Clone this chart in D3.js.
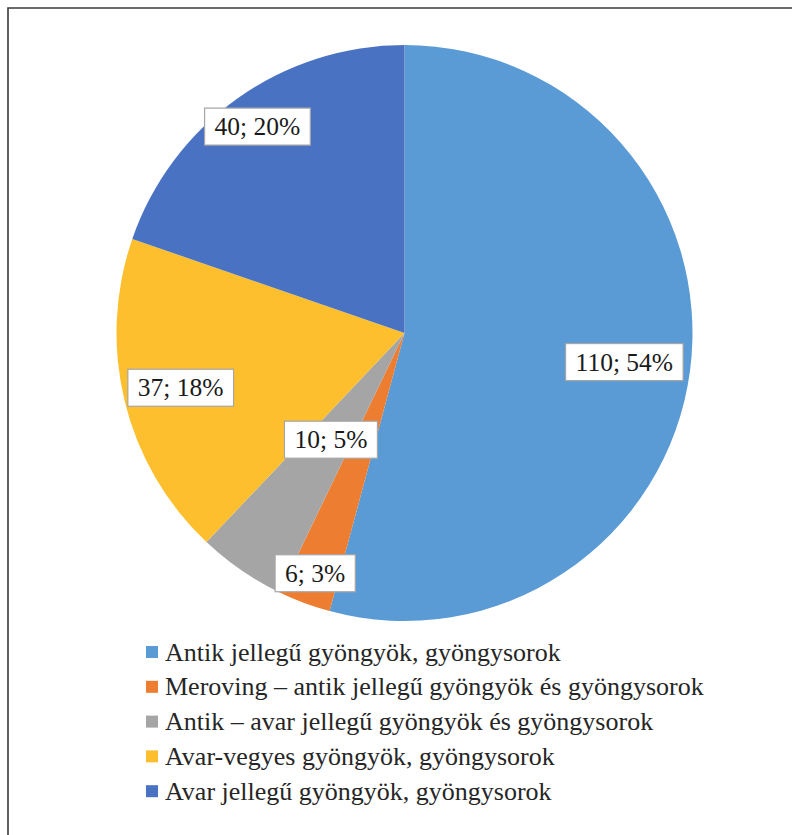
<!DOCTYPE html>
<html>
<head>
<meta charset="utf-8">
<script src="https://cdn.jsdelivr.net/npm/d3@7"></script>
<style>
  html, body { margin: 0; padding: 0; background: #fff; }
  svg { display: block; }
</style>
</head>
<body>
<svg id="chart" width="792" height="835"></svg>
<script>
// Bead-type distribution (count per category)
const categories = [
  "Antik jellegű gyöngyök, gyöngysorok",
  "Meroving – antik jellegű gyöngyök és gyöngysorok",
  "Antik – avar jellegű gyöngyök és gyöngysorok",
  "Avar-vegyes gyöngyök, gyöngysorok",
  "Avar jellegű gyöngyök, gyöngysorok"
];
const counts = [110, 6, 10, 37, 40];
const percentLabels = ["54%", "3%", "5%", "18%", "20%"];
const sliceColors = ["#5b9bd5", "#ed7d31", "#a5a5a5", "#fdbf2d", "#4a72c2"];

const svg = d3.select("#chart");
const W = 792, H = 835;
const cx = 404.5, cy = 333, R = 288;
const serif = '"Liberation Serif"';

// outer frame (runs off the right/bottom edge)
svg.append("path")
  .attr("d", `M${W + 5},8 H8 V${H + 5}`)
  .attr("fill", "none")
  .attr("stroke", "#3a3a3a")
  .attr("stroke-width", 1.6);

const pie = d3.pie().sort(null).value(d => d)(counts);
const arc = d3.arc().innerRadius(0).outerRadius(R);

const g = svg.append("g").attr("transform", `translate(${cx},${cy})`);

g.selectAll("path.slice")
  .data(pie)
  .join("path")
  .attr("class", "slice")
  .attr("d", arc)
  .attr("fill", (d, i) => sliceColors[i]);

// data-label placement along each slice's bisector, as a fraction of the radius
const labelFrac = [0.77, 0.89, 0.45, 0.80, 0.88];
const fontSize = 25.5;

pie.forEach((d, i) => {
  const a = (d.startAngle + d.endAngle) / 2;
  const r = R * labelFrac[i];
  const x = Math.sin(a) * r, y = -Math.cos(a) * r;
  const txt = `${counts[i]}; ${percentLabels[i]}`;
  const lg = g.append("g").attr("transform", `translate(${x},${y})`);
  const t = lg.append("text")
    .attr("text-anchor", "middle")
    .attr("y", 8.5)
    .style("font-family", serif)
    .style("font-size", fontSize + "px")
    .attr("fill", "#1a1a1a")
    .text(txt);
  const w = t.node().getComputedTextLength();
  lg.insert("rect", "text")
    .attr("x", -w / 2 - 10)
    .attr("y", -18.5)
    .attr("width", w + 20)
    .attr("height", 37)
    .attr("fill", "#fff")
    .attr("stroke", "#a6a6a6")
    .attr("stroke-width", 1.2);
});

// legend
const legend = svg.append("g").attr("transform", "translate(146,652)");
const rowH = 34.8;
categories.forEach((c, i) => {
  const row = legend.append("g").attr("transform", `translate(0,${i * rowH})`);
  row.append("rect")
    .attr("x", 0).attr("y", -6)
    .attr("width", 12).attr("height", 12)
    .attr("fill", sliceColors[i]);
  row.append("text")
    .attr("x", 19)
    .attr("y", 8.5)
    .style("font-family", serif)
    .style("font-size", "26px")
    .attr("fill", "#262626")
    .text(c);
});
</script>
</body>
</html>
